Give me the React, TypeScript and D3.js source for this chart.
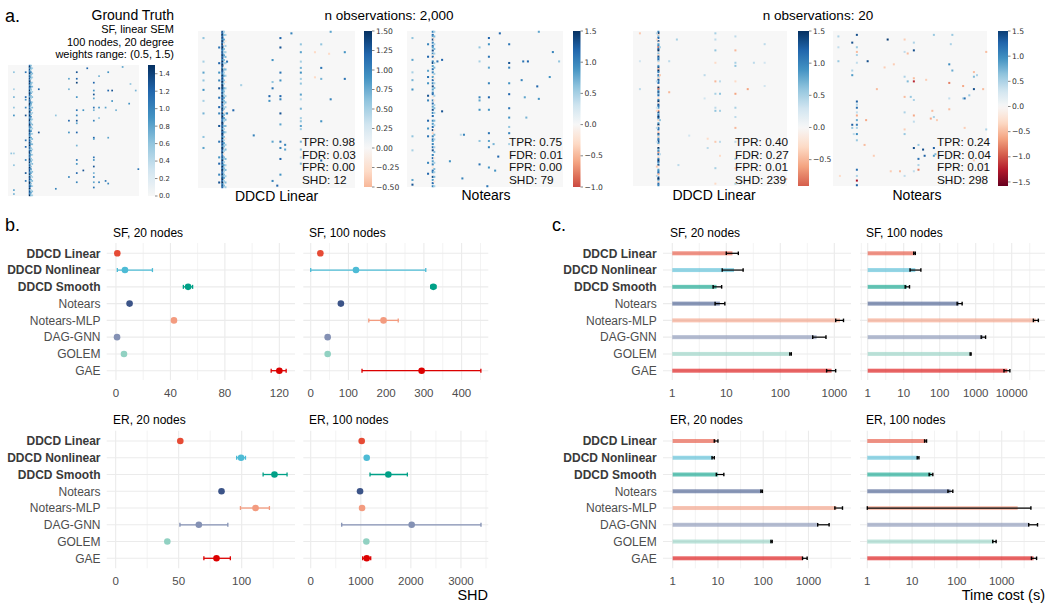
import React from "react";
import * as d3 from "d3";

const FONT = "'Liberation Sans', Arial, Helvetica, sans-serif";
const CB_FONT = "'DejaVu Sans', sans-serif";

// ---------------- Panel b / c data ----------------
const METHODS = ["DDCD Linear", "DDCD Nonlinear", "DDCD Smooth", "Notears", "Notears-MLP", "DAG-GNN", "GOLEM", "GAE"];
const BOLD = [true, true, true, false, false, false, false, false];
const COLORS = ["#E64B35", "#4DBBD5", "#00A087", "#3C5488", "#F39B7F", "#8491B4", "#91D1C2", "#DC0000"];

// SHD (panel b)
const SHD_SF20_MEAN = [1, 6.6, 53, 10, 42.6, 0.8, 5.9, 120];
const SHD_SF20_LO = [1, 1, 49.5, 10, 42.6, 0.8, 5.9, 114];
const SHD_SF20_HI = [1, 26.8, 56.3, 10, 42.6, 0.8, 5.9, 125];

const SHD_SF100_MEAN = [25.6, 120, 325, 80, 193, 45, 45, 294];
const SHD_SF100_LO = [25.6, 0, 318, 80, 154, 45, 45, 136];
const SHD_SF100_HI = [25.6, 305, 332, 80, 232, 45, 45, 451];

const SHD_ER20_MEAN = [51.3, 99.5, 126, 84, 111, 66, 41, 80];
const SHD_ER20_LO = [51.3, 96, 117, 84, 99, 51, 41, 70];
const SHD_ER20_HI = [51.3, 103, 136, 84, 122, 89, 41, 91];

const SHD_ER100_MEAN = [1018, 1118, 1550, 985, 1025, 2016, 1111, 1118];
const SHD_ER100_LO = [1018, 1118, 1184, 985, 1025, 619, 1111, 1038];
const SHD_ER100_HI = [1018, 1118, 1930, 985, 1025, 3400, 1111, 1198];

// Time cost (panel c)
const T_SF20_MEAN = [13, 13.9, 6.6, 7.6, 1274, 470, 155, 890];
const T_SF20_LO = [10, 8.4, 5.7, 6.2, 1060, 398, 150, 720];
const T_SF20_HI = [16.7, 20.5, 8.2, 9.4, 1480, 701, 160, 1060];

const T_SF100_MEAN = [20, 21, 12.3, 340, 46800, 1620, 720, 7550];
const T_SF100_LO = [19, 15, 11, 305, 40000, 1420, 700, 6100];
const T_SF100_HI = [21, 30, 14.5, 420, 55000, 1880, 745, 8900];

const T_ER20_MEAN = [8.9, 7.8, 10, 92, 4170, 1620, 153, 752];
const T_ER20_LO = [8.3, 7.4, 9.2, 89, 3830, 1600, 148, 740];
const T_ER20_HI = [10, 8.3, 13.5, 96, 5650, 2860, 158, 935];

const T_ER100_MEAN = [20, 13.6, 27, 72, 2270, 4100, 675, 5150];
const T_ER100_LO = [19, 13, 24, 63, 1, 4000, 630, 4600];
const T_ER100_HI = [21, 14.2, 29, 81, 4480, 6300, 750, 6000];

// ---------------- Panel a data (sparse 100x100 matrices) ----------------
// hub columns: one char per row; '.'=0, '1'..'9' = n/6, 'a'..'i' = -n/6
const GT_HUBS = [
  { c: 16, s: "7958679586 8697958769 6987597869 9768598697 5896798657 9687596879 7968579868 6897958697 8769597869 9687958769" },
  { c: 17, s: "4.53.6.4.5 3..54.6.43 .5.4.3..65 4.3.5..4.6 .53.4..5.3 6.4..53.4. 5..4.63.5. .4.53..4.6 3.5.4..53. 4.6..3.5.4" },
  { c: 18, s: "..3...4..3 ...3..4... 3...4...3. ..4...3... .3...4..3. ..3...4... 4...3...3. ..3..4.... .4...3..4. ..3...4..3" },
];
const GT_PTS = [
  [5, 4, .6], [18, 4, .5], [24, 4, .7], [32, 4, .6], [38, 4, .9], [67, 4, .5], [76, 4, .6], [95, 4, .8], [98, 4, .7],
  [5, 13, 1.1], [24, 13, 1.2], [26, 13, .9], [32, 13, 1.0], [38, 13, 1.3], [57, 13, 1.1], [62, 13, 1.2], [72, 13, 1.0], [82, 13, 1.3], [88, 13, 1.1],
  [18, 23, 1.2], [51, 23, 1.3], [38, 36, .6], [94, 36, 1.0],
  [10, 46, .8], [18, 46, .7], [42, 46, 1.2], [51, 46, .9], [85, 46, 1.0],
  [5, 52, 1.3], [10, 52, 1.2], [13, 52, 1.4], [24, 52, .9], [34, 52, 1.1], [38, 52, 1.0], [42, 52, 1.3], [44, 52, .8], [51, 52, 1.2], [61, 52, .7], [72, 52, 1.1], [75, 52, .9], [82, 52, 1.2], [89, 52, 1.0],
  [34, 57, .9], [80, 57, 1.3], [2, 60, 1.2],
  [13, 65, 1.2], [19, 65, .9], [22, 65, 1.3], [25, 65, .8], [32, 65, 1.1], [34, 65, .7], [42, 65, 1.0], [55, 65, 1.2], [56, 65, .8], [70, 65, 1.1], [72, 65, .9], [77, 65, 1.3], [82, 65, .7], [85, 65, 1.0], [89, 65, .8], [93, 65, 1.1],
  [8, 69, .7], [32, 69, .9], [40, 69, .6], [89, 69, 1.0], [32, 74, .8], [88, 74, 1.1],
  [5, 76, .9], [19, 76, 1.2], [55, 76, .8], [90, 76, 1.0], [19, 79, 1.3], [27, 79, .9],
  [34, 82, .7], [1, 87, .8], [29, 92, .9], [14, 93, .6], [19, 97, .7], [79, 99, 1.1], [67, 2, .6],
];

const DL2K_HUBS = [
  { c: 15, s: "8797869797 9868797869 7986987697 8796989768 6978697869 8697986798 7869798697 9786987967 8697869798 7968979687" },
  { c: 16, s: "3.4..5.3a. .4.3.5..4. 3..a4.3.5. .4.3..5.4. 3.5.4.3..4 .a.4.5.3.. 4.3.5..4.3 .5.4..3.a. 4..3.5.4.3 .4.5.3..4." },
  { c: 17, s: "..3...a..3 ...3..4... 3...4...3. ..a...3... .3...4..3. ..3...4... 4...3...a. ..3..4.... .4...3..4. ..3...4..3" },
];
const DL2K_PTS = [
  [4, 3, .6], [19, 3, .5], [26, 3, .8], [31, 3, .6], [37, 3, .9], [44, 3, .5], [52, 3, .7], [67, 3, .6], [74, 3, .8],
  [10, 13, 1.1], [20, 13, 1.2], [26, 13, .9], [31, 13, 1.0], [36, 13, 1.3], [42, 13, 1.1], [48, 13, 1.2], [52, 13, 1.0], [60, 13, 1.3], [70, 13, 1.1], [80, 13, .9], [84, 13, 1.2], [91, 13, 1.0], [96, 13, 1.3],
  [4, 52, 1.2], [10, 52, 1.3], [26, 52, 1.1], [31, 52, .9], [41, 52, 1.2], [43, 52, 1.0], [52, 52, 1.3], [59, 52, .8], [70, 52, 1.1], [74, 52, 1.0], [81, 52, 1.2], [91, 52, .9],
  [8, 65, .6], [13, 65, .8], [19, 65, .5], [23, 65, .7], [26, 65, .9], [30, 65, .5], [33, 65, .6], [40, 65, .8], [43, 65, .4], [49, 65, .7], [55, 65, .5], [57, 65, .6], [60, 65, .8], [62, 65, .5], [70, 65, .7], [75, 65, .6], [80, 65, .4], [84, 65, .7],
  [18, 47, .9], [32, 47, .6], [36, 47, 1.1], [70, 47, .8], [95, 47, 1.0], [41, 45, 1.2], [44, 45, .9], [72, 55, 1.0], [75, 55, .8],
  [23, 78, 1.1], [30, 78, .7], [57, 78, .9], [82, 78, 1.2], [13, 93, .9], [30, 93, 1.1], [0, 84, .8], [43, 84, 1.0],
  [13, 74, -.3], [14, 83, -.3], [29, 74, -.3],
  [66, 35, 1.0], [50, 22, 1.2], [34, 27, .5], [19, 18, 1.1], [52, 18, 1.0], [98, 50, 1.2], [1, 59, 1.0], [8, 78, .6],
];

const NT2K_HUBS = [
  { c: 16, s: "6.75a8.6.7 5.8.6a7..6 8.5.7.6.a5 .7.6.8.5.6 7.a.6.7.5. 8.6.7..6.5 .7.8.b.6.7 5.6.7.8..6 .7.5.6.a.7 6..8.5.7.6" },
  { c: 17, s: "3..4.a..3. .4..3..a.. 3..4...3.. a..3..4... .3..a..3.4 ..3....4.. 3..a..4..3 ....3..4.. .a..3...4. 3..4..a..3" },
];
const NT2K_PTS = [
  [8, 13, 1.0], [16, 13, 1.2], [25, 13, .8], [29, 13, 1.1], [33, 13, .9], [41, 13, 1.3], [44, 13, 1.0], [57, 13, 1.2], [62, 13, .9], [67, 13, 1.1], [84, 13, 1.0], [91, 13, 1.2],
  [4, 3, .6], [18, 3, .8], [26, 3, .5], [31, 3, .7], [37, 3, .9], [67, 3, .6], [76, 3, .5], [95, 3, .8], [98, 3, 1.3],
  [10, 46, .6], [19, 46, .5], [42, 46, 1.0], [44, 46, .8], [50, 46, .9], [70, 46, .6], [85, 46, 1.1],
  [4, 52, 1.2], [8, 52, .9], [16, 52, 1.1], [23, 52, .8], [33, 52, 1.0], [42, 52, 1.2], [50, 52, .9], [65, 52, 1.1], [70, 52, .8], [74, 52, 1.0], [87, 52, .9],
  [8, 65, 1.1], [20, 65, 1.3], [23, 65, 1.0], [33, 65, .9], [40, 65, 1.2], [49, 65, 1.1], [55, 65, .9], [61, 65, .6], [65, 65, 1.0], [72, 65, .5],
  [19, 74, 1.1], [19, 77, 1.2], [31, 73, 1.0], [35, 83, 1.2], [42, 75, .8], [55, 76, .7], [43, 84, .9],
  [51, 22, 1.3], [19, 19, 1.1], [18, 22, 1.2], [66, 36, 1.0], [83, 27, .9], [66, 34, .4],
  [1, 59, 1.2], [0, 84, .8], [13, 93, 1.0], [19, 97, .6], [29, 91, .9], [99, 51, 1.1], [94, 35, 1.0],
  [80, 58, 1.2], [72, 55, .7], [89, 56, .9],
];

const DL20_HUBS = [
  { c: 16, s: "69b47.8a56 e79.4b8673 a.58c96.74 b867.a9e58 47.b69a875 .d84796b.5 9a67.c84b6 785a.946d7 .b69748a.5 67c.894b76" },
];
const DL20_PTS = [
  [1, 15, .4], [5, 15, -.3], [32, 15, .4], [49, 15, .3], [51, 15, -.3], [62, 15, .4], [71, 15, .3], [87, 15, -.4], [93, 15, .4],
  [10, 17, .5], [28, 17, -.4], [57, 17, .6], [79, 17, .4],
  [1, 53, .5], [5, 53, .4], [12, 53, .6], [20, 53, -.3], [32, 53, -.5], [40, 53, .5], [49, 53, .4], [51, 53, .6], [71, 53, -.4], [88, 53, .5], [98, 53, -.3],
  [32, 56, .4], [40, 56, .6], [51, 56, .5], [71, 56, .4], [80, 56, -.3],
  [3, 66, .4], [12, 66, -.5], [20, 66, .5], [22, 66, .6], [32, 66, -.3], [40, 66, -.6], [49, 66, .5], [55, 66, .4], [62, 66, -.5], [71, 66, .4], [82, 66, .5], [88, 66, -.4], [98, 66, .5],
  [8, 85, .4], [20, 85, .3], [20, 78, .4], [37, 74, -.6], [35, 85, .3], [1, 4, -.4], [19, 4, .3], [37, 4, .4],
  [19, 23, .4], [39, 23, -.5], [5, 28, .5], [28, 46, .4], [43, 46, .3], [67, 36, .3], [69, 48, -.3], [75, 48, .4], [86, 29, .4], [95, 99, -.5],
];

const NT20_HUBS = [];
const NT20_PTS = [
  [2, 15, 1.4], [10, 15, .6], [13, 15, -.5], [15, 15, .5], [20, 15, .4], [45, 15, 1.3], [47, 15, .5], [49, 15, 1.2], [52, 15, .4], [54, 15, -.6], [57, 15, .8], [60, 15, 1.1], [62, 15, .5], [66, 15, 1.0], [70, 15, .6], [89, 15, 1.2], [93, 15, .5], [96, 15, -1.3], [99, 15, 1.3],
  [7, 12, 1.4], [25, 12, .5], [28, 12, .9], [62, 12, .6], [60, 12, 1.3],
  [3, 3, .5], [10, 3, .4], [19, 3, .6], [19, 22, 1.4], [57, 21, -.6],
  [5, 46, -.4], [13, 46, .4], [29, 46, .5], [42, 46, -.5], [52, 46, .5], [63, 46, -.4], [66, 46, .6], [93, 46, .4],
  [7, 52, .5], [12, 52, 1.4], [30, 52, -.5], [32, 52, -1.2], [44, 52, .5], [54, 52, -.6], [58, 52, .4], [75, 52, 1.4],
  [73, 55, .6], [82, 55, 1.2], [86, 55, .5], [89, 55, -.8],
  [2, 65, .6], [55, 65, .5], [75, 65, 1.3], [80, 65, .9],
  [21, 75, 1.0], [33, 75, -.8], [43, 75, .4], [2, 77, .6], [25, 77, .8], [35, 84, -.6], [43, 84, .5],
  [26, 91, -.5], [29, 91, .7], [37, 91, 1.4], [13, 99, -.5], [63, 99, .5],
  [37, 28, -.5], [23, 33, -.4], [21, 39, -.4], [14, 48, -.5], [31, 60, -.4], [51, 64, -.5], [56, 63, -.6], [57, 67, -.4], [50, 75, -.5], [62, 85, -.4], [37, 97, -.5], [83, 91, -.4], [90, 37, -.4], [90, 43, -.5], [80, 26, -.4], [73, 20, -.5], [97, 78, -.4], [93, 4, -.3],
  [5, 35, 1.5], [76, 58, 1.4], [80, 59, 1.3], [43, 85, 1.2], [79, 66, .7], [42, 50, .6], [32, 48, .7], [28, 93, .5], [41, 88, .6], [66, 13, .4], [90, 52, .4], [8, 76, .5],
];

const GT_TICKS = [0, 0.2, 0.4, 0.6, 0.8, 1.0, 1.2, 1.4];
const DL2K_TICKS = [-0.5, -0.25, 0, 0.25, 0.5, 0.75, 1.0, 1.25, 1.5];
const NT2K_TICKS = [-1.0, -0.5, 0, 0.5, 1.0, 1.5];
const DL20_TICKS = [-0.5, 0, 0.5, 1.0, 1.5];
const NT20_TICKS = [-1.5, -1.0, -0.5, 0, 0.5, 1.0, 1.5];

const DL2K_STATS = ["TPR: 0.98", "FDR: 0.03", "FPR: 0.00", "SHD: 12"];
const NT2K_STATS = ["TPR: 0.75", "FDR: 0.01", "FPR: 0.00", "SHD: 79"];
const DL20_STATS = ["TPR: 0.40", "FDR: 0.27", "FPR: 0.01", "SHD: 239"];
const NT20_STATS = ["TPR: 0.24", "FDR: 0.04", "FPR: 0.01", "SHD: 298"];

// matplotlib RdBu colour stops
const RDBU = ["#67001f", "#b2182b", "#d6604d", "#f4a582", "#fddbc7", "#f7f7f7", "#d1e5f0", "#92c5de", "#4393c3", "#2166ac", "#053061"];
const rdbu = d3.scaleLinear<string>().domain(d3.range(11).map((i) => i / 10)).range(RDBU).interpolate(d3.interpolateRgb).clamp(true);

// ---------------- helpers ----------------
function dec(ch: string): number {
  if (ch === ".") return 0;
  if (ch >= "1" && ch <= "9") return +ch / 6;
  return -(ch.charCodeAt(0) - 96) / 6;
}

function collect(hubs: any[], pts: number[][]) {
  const cells: number[][] = [];
  hubs.forEach((h) => {
    const s = h.s.replace(/ /g, "");
    for (let r = 0; r < s.length && r < 100; r++) {
      const v = dec(s[r]);
      if (v !== 0) cells.push([r, h.c, v]);
    }
  });
  pts.forEach((p) => cells.push(p));
  return cells;
}

function Heat({ x, y, w, h, hubs, pts, vmax }: any) {
  const xs = d3.scaleLinear().domain([0, 100]).range([x, x + w]);
  const ys = d3.scaleLinear().domain([0, 100]).range([y, y + h]);
  const color = (v: number) => rdbu(0.5 + v / (2 * vmax));
  const cells = collect(hubs, pts);
  const cw = w / 100, ch = h / 100;
  const k = 0.3;
  return (
    <g>
      <rect x={x} y={y} width={w} height={h} fill={color(0)} />
      {cells.map(([r, c, v], i) => (
        <rect key={i} x={xs(c) - cw * k / 2} y={ys(r) - ch * k / 2} width={cw * (1 + k)} height={ch * (1 + k)} fill={color(v)} />
      ))}
    </g>
  );
}

function CBar({ id, x, y, w, h, min, max, vmax, ticks, fmt, fs }: any) {
  const s = d3.scaleLinear().domain([min, max]).range([y + h, y]);
  const color = (v: number) => rdbu(0.5 + v / (2 * vmax));
  const stops = d3.range(0, 41).map((i) => min + ((max - min) * i) / 40);
  const f = d3.format(fmt);
  return (
    <g>
      <defs>
        <linearGradient id={id} x1="0" y1="1" x2="0" y2="0">
          {stops.map((v, i) => (
            <stop key={i} offset={`${(i / 40) * 100}%`} stopColor={color(v)} />
          ))}
        </linearGradient>
      </defs>
      <rect x={x} y={y} width={w} height={h} fill={`url(#${id})`} />
      {ticks.map((t: number, i: number) => (
        <g key={i}>
          <line x1={x + w} x2={x + w + 2.5} y1={s(t)} y2={s(t)} stroke="#333" strokeWidth={0.6} />
          <text x={x + w + 4} y={s(t)} dy="0.35em" fontSize={fs} fill="#333" fontFamily={CB_FONT}>
            {f(t).replace("-", "\u2212")}
          </text>
        </g>
      ))}
    </g>
  );
}

function Stats({ x, lines }: any) {
  return (
    <g>
      {lines.map((l: string, i: number) => (
        <text key={i} x={x} y={146 + i * 12.7} fontSize={11.8} fill="#111">
          {l}
        </text>
      ))}
    </g>
  );
}

function Panel({ x0, x1, gy0, gy1, ry0, ry1, domain, log, major, minor, mean, lo, hi, title, tx, ty, labelX, tickY }: any) {
  const xs: any = log
    ? d3.scaleLog().domain(domain).range([x0, x1])
    : d3.scaleLinear().domain(domain).range([x0, x1]);
  const ys = d3.scalePoint().domain(METHODS).range([ry0, ry1]);
  const grid = "#EBEBEB";
  return (
    <g>
      {minor.map((v: number, i: number) => (
        <line key={"mi" + i} x1={xs(v)} x2={xs(v)} y1={gy0} y2={gy1} stroke={grid} strokeWidth={0.6} />
      ))}
      {major.map((v: number, i: number) => (
        <line key={"ma" + i} x1={xs(v)} x2={xs(v)} y1={gy0} y2={gy1} stroke={grid} strokeWidth={1.1} />
      ))}
      {METHODS.map((m, i) => (
        <line key={"h" + i} x1={x0} x2={x1} y1={ys(m)} y2={ys(m)} stroke={grid} strokeWidth={1.1} />
      ))}
      {log
        ? METHODS.map((m, i) => {
            const y = ys(m) as number;
            const a = xs(Math.max(lo[i], domain[0]));
            const b = xs(hi[i]);
            return (
              <g key={"b" + i}>
                <rect x={xs(1)} y={y - 2} width={xs(mean[i]) - xs(1)} height={4} fill={COLORS[i]} fillOpacity={0.6} />
                <line x1={a} x2={b} y1={y} y2={y} stroke="#000" strokeWidth={1.2} />
                <line x1={a} x2={a} y1={y - 1.8} y2={y + 1.8} stroke="#000" strokeWidth={1.4} />
                <line x1={b} x2={b} y1={y - 1.8} y2={y + 1.8} stroke="#000" strokeWidth={1.4} />
              </g>
            );
          })
        : METHODS.map((m, i) => {
            const y = ys(m) as number;
            const a = xs(lo[i]);
            const b = xs(hi[i]);
            return (
              <g key={"p" + i}>
                {hi[i] > lo[i] && (
                  <g>
                    <line x1={a} x2={b} y1={y} y2={y} stroke={COLORS[i]} strokeWidth={1.3} />
                    <line x1={a} x2={a} y1={y - 2} y2={y + 2} stroke={COLORS[i]} strokeWidth={1.3} />
                    <line x1={b} x2={b} y1={y - 2} y2={y + 2} stroke={COLORS[i]} strokeWidth={1.3} />
                  </g>
                )}
                <circle cx={xs(mean[i])} cy={y} r={3.3} fill={COLORS[i]} />
              </g>
            );
          })}
      {major.map((v: number, i: number) => (
        <text key={"t" + i} x={xs(v)} y={tickY} textAnchor="middle" fontSize={11.5} fill="#4D4D4D">
          {String(v)}
        </text>
      ))}
      <text x={tx} y={ty} fontSize={12} fill="#000">
        {title}
      </text>
      {labelX !== undefined &&
        METHODS.map((m, i) => (
          <text key={"l" + i} x={labelX} y={ys(m) as number} dy="0.36em" textAnchor="end" fontSize={12}
            fontWeight={BOLD[i] ? "bold" : "normal"} fill={BOLD[i] ? "#3a3a3a" : "#4D4D4D"}>
            {m}
          </text>
        ))}
    </g>
  );
}

const halfDecades = (n: number) => d3.range(0, n).map((k) => Math.pow(10, k + 0.5));

export default function App() {
  const TOP = { gy0: 243, gy1: 380, ry0: 253.3, ry1: 370.7, ty: 236.5, tickY: 397 };
  const BOT = { gy0: 430.7, gy1: 568.3, ry0: 441, ry1: 558.3, ty: 423.5, tickY: 585 };
  return (
    <svg width={1047} height={605} style={{ position: "absolute", left: 0, top: 0, background: "#fff" }} fontFamily={FONT}>
      <rect x={0} y={0} width={1047} height={605} fill="#fff" />
      {/* ---------- panel a ---------- */}
      <text x={5} y={22} fontSize={18}>a.</text>
      <text x={174} y={20} fontSize={14} textAnchor="end">Ground Truth</text>
      <text x={174} y={33} fontSize={11} textAnchor="end">SF, linear SEM</text>
      <text x={174} y={45.5} fontSize={11} textAnchor="end">100 nodes, 20 degree</text>
      <text x={174} y={58} fontSize={11} textAnchor="end">weights range: (0.5, 1.5)</text>
      <Heat x={8} y={65} w={131} h={131} hubs={GT_HUBS} pts={GT_PTS} vmax={1.5} />
      <CBar id="cb0" x={148} y={65} w={7} h={131} min={0} max={1.5} vmax={1.5} ticks={GT_TICKS} fmt=".1f" fs={6.8} />

      <text x={389} y={20} fontSize={13.5} textAnchor="middle">n observations: 2,000</text>
      <Heat x={198} y={31} w={157} h={157} hubs={DL2K_HUBS} pts={DL2K_PTS} vmax={1.5} />
      <Stats x={302} lines={DL2K_STATS} />
      <text x={276.5} y={201} fontSize={14} textAnchor="middle">DDCD Linear</text>
      <CBar id="cb1" x={364} y={31} w={8} h={156} min={-0.5} max={1.5} vmax={1.5} ticks={DL2K_TICKS} fmt=".2f" fs={7.6} />

      <Heat x={407} y={31} w={156} h={156} hubs={NT2K_HUBS} pts={NT2K_PTS} vmax={1.5} />
      <Stats x={509} lines={NT2K_STATS} />
      <text x={486} y={200} fontSize={14} textAnchor="middle">Notears</text>
      <CBar id="cb2" x={573} y={31} w={7.5} h={156} min={-1.0} max={1.5} vmax={1.5} ticks={NT2K_TICKS} fmt=".1f" fs={7.6} />

      <text x={818} y={20} fontSize={13.5} textAnchor="middle">n observations: 20</text>
      <Heat x={633} y={31} w={154} h={155} hubs={DL20_HUBS} pts={DL20_PTS} vmax={1.5} />
      <Stats x={735} lines={DL20_STATS} />
      <text x={714} y={200} fontSize={14} textAnchor="middle">DDCD Linear</text>
      <CBar id="cb3" x={798} y={31} w={11} h={155} min={-0.91} max={1.5} vmax={1.5} ticks={DL20_TICKS} fmt=".1f" fs={7.6} />

      <Heat x={833} y={31} w={154} h={155} hubs={NT20_HUBS} pts={NT20_PTS} vmax={1.58} />
      <Stats x={937} lines={NT20_STATS} />
      <text x={917} y={200} fontSize={14} textAnchor="middle">Notears</text>
      <CBar id="cb4" x={998} y={31} w={10} h={155} min={-1.58} max={1.5} vmax={1.58} ticks={NT20_TICKS} fmt=".1f" fs={7.6} />

      {/* ---------- panel b ---------- */}
      <text x={5} y={231} fontSize={18}>b.</text>
      <Panel x0={106.7} x1={295} {...TOP} domain={[-6.8, 131.5]} major={[0, 40, 80, 120]} minor={[20, 60, 100]}
        mean={SHD_SF20_MEAN} lo={SHD_SF20_LO} hi={SHD_SF20_HI} title="SF, 20 nodes" tx={113} labelX={100.5} />
      <Panel x0={303.3} x1={488.3} {...TOP} domain={[-19.6, 470.7]} major={[0, 100, 200, 300, 400]} minor={[50, 150, 250, 350, 450]}
        mean={SHD_SF100_MEAN} lo={SHD_SF100_LO} hi={SHD_SF100_HI} title="SF, 100 nodes" tx={309} />
      <Panel x0={106.7} x1={295} {...BOT} domain={[-7.1, 142.3]} major={[0, 50, 100]} minor={[25, 75, 125]}
        mean={SHD_ER20_MEAN} lo={SHD_ER20_LO} hi={SHD_ER20_HI} title="ER, 20 nodes" tx={113} labelX={100.5} />
      <Panel x0={303.3} x1={488.3} {...BOT} domain={[-148, 3546]} major={[0, 1000, 2000, 3000]} minor={[500, 1500, 2500, 3500]}
        mean={SHD_ER100_MEAN} lo={SHD_ER100_LO} hi={SHD_ER100_HI} title="ER, 100 nodes" tx={309} />
      <text x={488} y={600} fontSize={14.5} textAnchor="end">SHD</text>

      {/* ---------- panel c ---------- */}
      <text x={552} y={231} fontSize={18}>c.</text>
      <Panel x0={663} x1={851} {...TOP} log domain={[Math.pow(10, -0.172), Math.pow(10, 3.309)]} major={[1, 10, 100, 1000]} minor={halfDecades(4)}
        mean={T_SF20_MEAN} lo={T_SF20_LO} hi={T_SF20_HI} title="SF, 20 nodes" tx={670} labelX={656.7} />
      <Panel x0={860} x1={1045} {...TOP} log domain={[Math.pow(10, -0.214), Math.pow(10, 4.925)]} major={[1, 10, 100, 1000, 10000]} minor={halfDecades(5)}
        mean={T_SF100_MEAN} lo={T_SF100_LO} hi={T_SF100_HI} title="SF, 100 nodes" tx={866} />
      <Panel x0={663} x1={851} {...BOT} log domain={[Math.pow(10, -0.214), Math.pow(10, 3.94)]} major={[1, 10, 100, 1000]} minor={halfDecades(4)}
        mean={T_ER20_MEAN} lo={T_ER20_LO} hi={T_ER20_HI} title="ER, 20 nodes" tx={670} labelX={656.7} />
      <Panel x0={860} x1={1045} {...BOT} log domain={[Math.pow(10, -0.163), Math.pow(10, 3.966)]} major={[1, 10, 100, 1000]} minor={halfDecades(4)}
        mean={T_ER100_MEAN} lo={T_ER100_LO} hi={T_ER100_HI} title="ER, 100 nodes" tx={866} />
      <text x={1045} y={600} fontSize={14.5} textAnchor="end">Time cost (s)</text>
    </svg>
  );
}
